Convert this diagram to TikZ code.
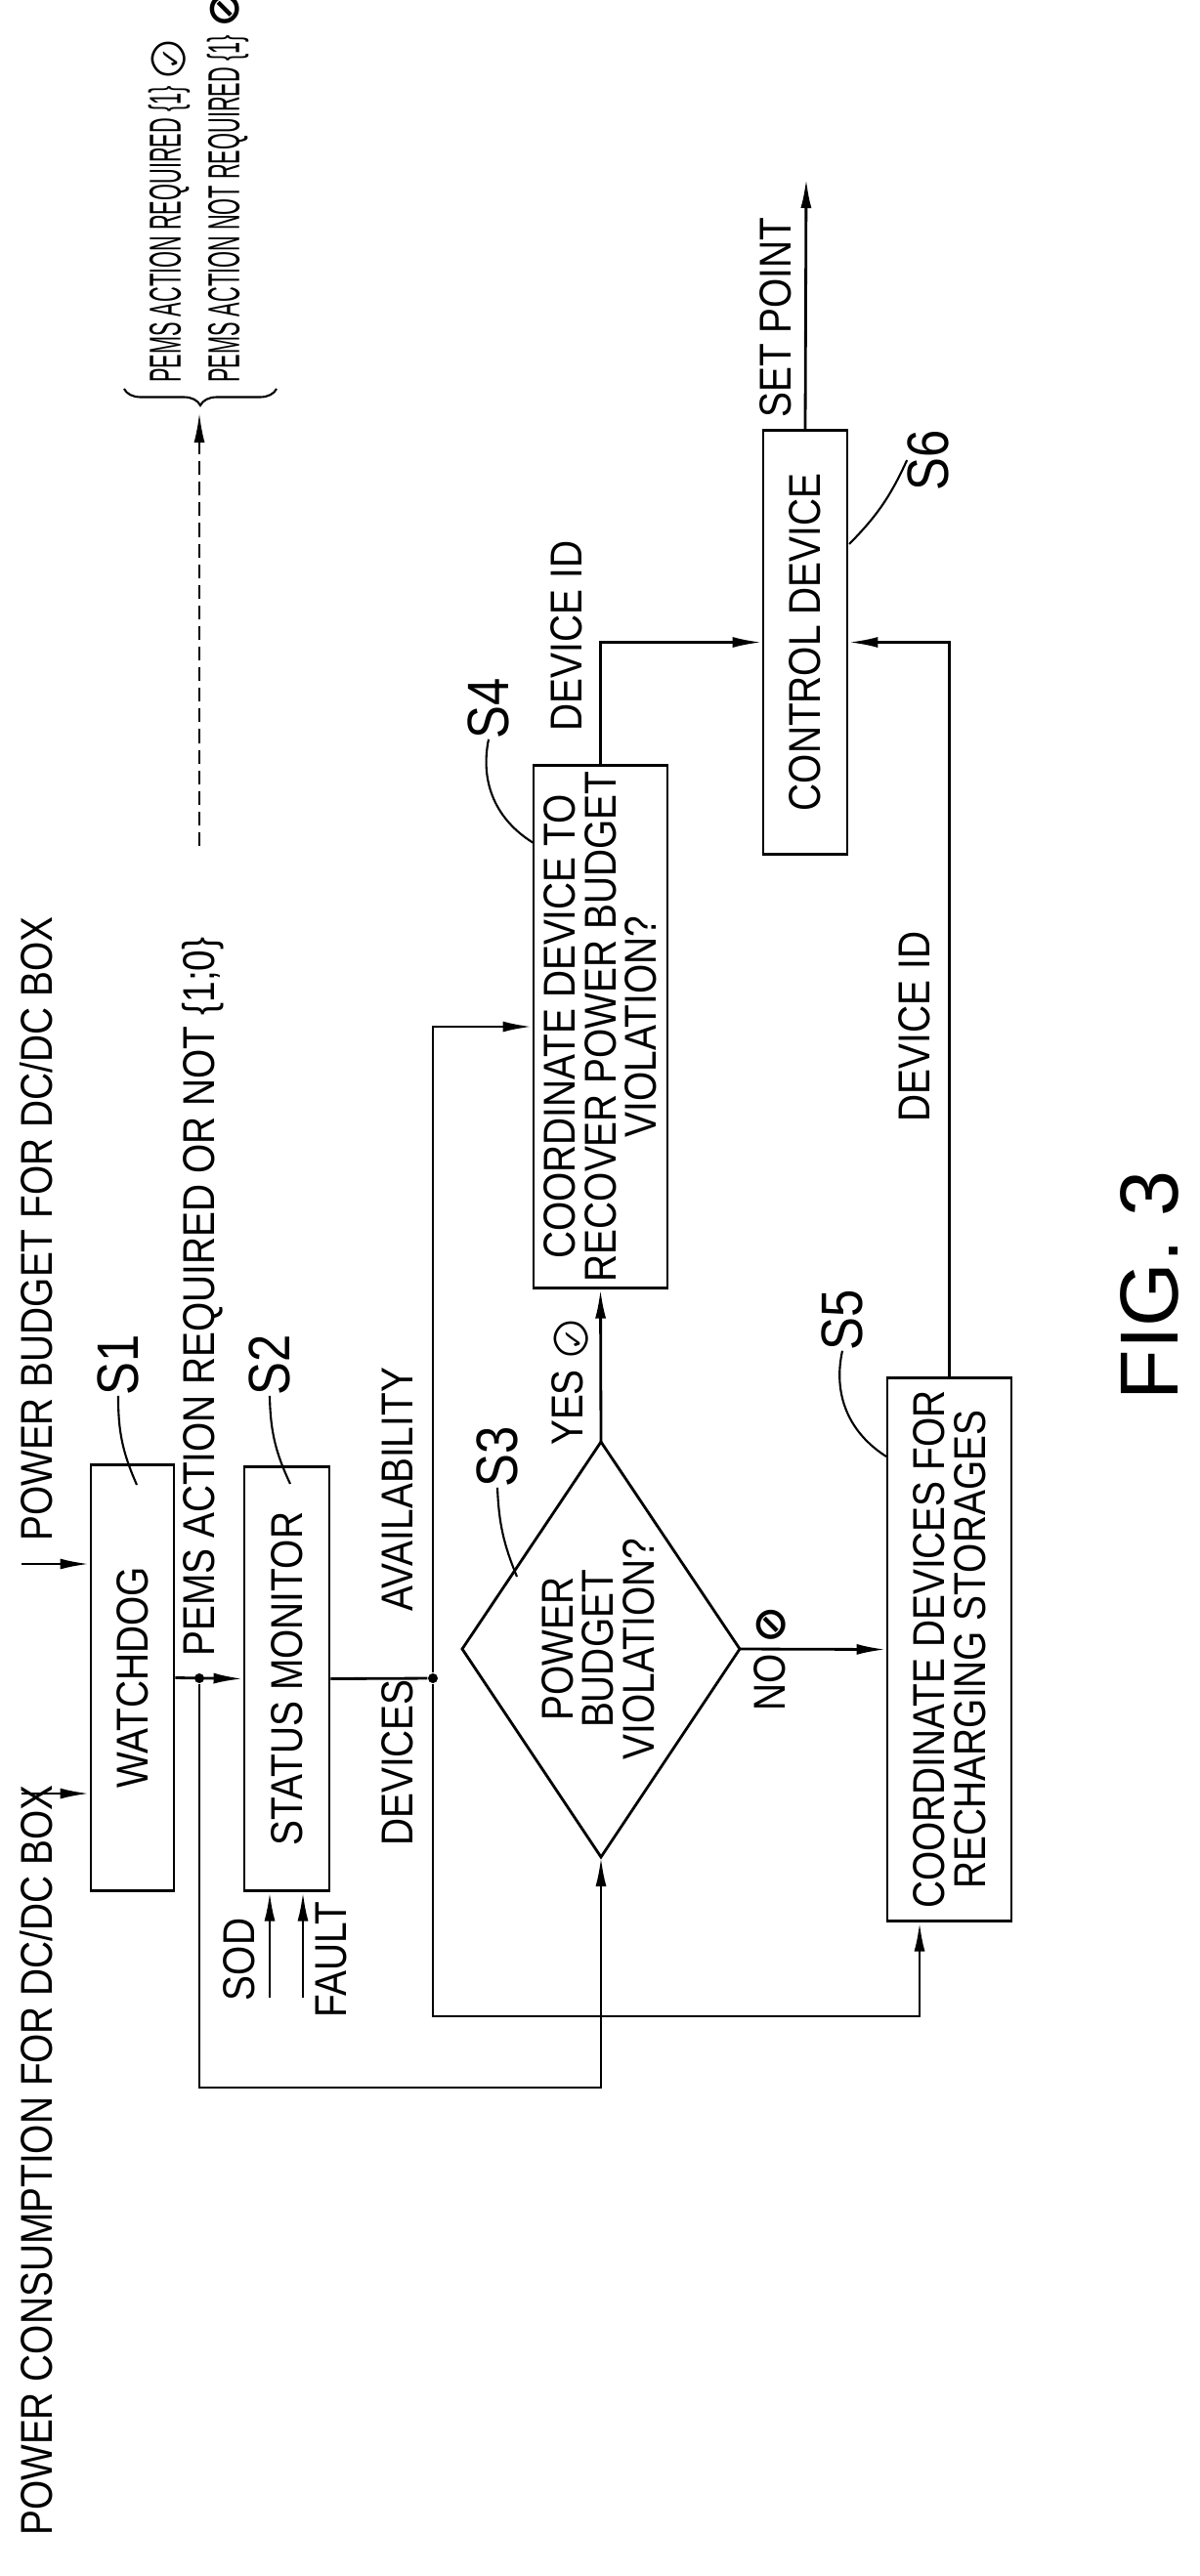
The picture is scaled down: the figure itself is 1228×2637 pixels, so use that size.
\documentclass[tikz,border=0pt]{standalone}
\usepackage{fontspec}
\setmainfont{Liberation Sans}[FakeStretch=0.85]
\newfontfamily\figfont{Liberation Sans}
\newfontfamily\symfont{DejaVu Sans}
\usetikzlibrary{arrows.meta,decorations.pathreplacing}
\newcommand\yesmark{{\symfont\makebox[0pt][l]{\makebox[0.9em]{\scalebox{0.6}{✓}}}\makebox[0.9em]{○}}}
\newcommand\nomark{{\symfont\bfseries ⊘}}
\tikzset{
  lbl/.style={rotate=90,inner sep=1pt,font=\fontsize{13}{11.8}\selectfont,align=center},
  box/.style={lbl,draw,thick,inner sep=0pt},
  stepno/.style={rotate=90,inner sep=0pt,font=\fontsize{17}{17}\selectfont},
  flow/.style={thick,-{Latex[length=3mm,width=1.1mm]}},
  dot/.style={circle,fill,inner sep=0pt,minimum size=1mm}
}
\begin{document}
\begin{tikzpicture}[x=0.01cm,y=-0.01cm]
	\useasboundingbox (0,0) rectangle (1228,2637);
	% blocks
	\node [box,minimum width=4.35cm,minimum height=0.85cm] (wd) at (135.5,1717.5) {WATCHDOG};
	\node [box,minimum width=4.33cm,minimum height=0.87cm] (sm) at (293.5,1718.5) {STATUS MONITOR};
	\node [box,minimum width=5.34cm,minimum height=1.37cm] (s4) at (614.5,1051) {COORDINATE DEVICE TO\\RECOVER POWER BUDGET\\VIOLATION?};
	\node [box,minimum width=5.55cm,minimum height=1.27cm] (s5) at (971.5,1688.5) {COORDINATE DEVICES FOR\\RECHARGING STORAGES};
	\node [box,minimum width=4.33cm,minimum height=0.86cm] (s6) at (824,657.5) {CONTROL DEVICE};
	% decision
	\coordinate (dl) at (473,1688);
	\coordinate (dt) at (615,1476);
	\coordinate (dr) at (757,1688);
	\coordinate (db) at (615,1901);
	\draw [thick] (dl) -- (dt) -- (dr) -- (db) -- cycle;
	\node [lbl] (dia) at (612,1688) {POWER\\BUDGET\\VIOLATION?};
	% inputs
	\node [lbl,anchor=west] (pc) at (37,2600) {POWER CONSUMPTION FOR DC/DC BOX};
	\node [lbl,anchor=west] (pb) at (37,1582) {POWER BUDGET FOR DC/DC BOX};
	\coordinate (in1) at (22,1836);
	\coordinate (in2) at (22,1601);
	\draw [flow] (in1) -- (in1 -| wd.north);
	\draw [flow] (in2) -- (in2 -| wd.north);
	\coordinate (sod) at (276,2045);
	\coordinate (flt) at (310,2045);
	\draw [flow] (sod) -- (sod |- sm.west);
	\draw [flow] (flt) -- (flt |- sm.west);
	\node [lbl] (sodl) at (245,2006) {SOD};
	\node [lbl] (fltl) at (339,2006) {FAULT};
	% watchdog output
	\node [dot] (j1) at (204,1718) {};
	\draw [flow] (wd.south) -- (sm.north);
	\coordinate (l1) at (204,2137);
	\draw [flow] (j1) -- (l1) -| (db);
	\node [lbl,anchor=west] (pems) at (208,1700) {PEMS ACTION REQUIRED OR NOT \{1;0\}};
	\coordinate (d1) at (204,866);
	\coordinate (d2) at (204,423);
	\draw [semithick,dash pattern=on 4pt off 2pt,-{Latex[length=3mm,width=1.1mm]}] (d1) -- (d2);
	\coordinate (br1) at (283,398);
	\coordinate (br2) at (127,398);
	\draw [semithick,decorate,decoration={brace,amplitude=0.17cm}] (br1) -- (br2);
	\node [lbl,anchor=west] (req) at (173,396) {\scalebox{0.56}[1]{PEMS ACTION REQUIRED \{1\}}\,\yesmark};
	\node [lbl,anchor=west] (nreq) at (233,396) {\scalebox{0.56}[1]{PEMS ACTION NOT REQUIRED \{1\}}\,\nomark};
	% status monitor output
	\node [dot] (j2) at (443,1718) {};
	\draw [thick] (sm.south) -- (j2);
	\node [lbl,anchor=west] (avail) at (407,1894) {DEVICES\hspace{0.7cm}AVAILABILITY};
	\draw [flow] (j2) |- (s4.north);
	\coordinate (l2) at (941,2064);
	\draw [flow] (j2) |- (l2) -- (l2 |- s5.west);
	% decision outputs
	\draw [flow] (dt) -- (s4.west);
	\node [lbl] (yes) at (583,1415) {YES \yesmark};
	\draw [flow] (dr) -- (s5.north);
	\node [lbl] (no) at (788,1698) {NO \nomark};
	% to control device
	\draw [flow] (s4.east) |- (s6.north);
	\draw [flow] (s5.east) |- (s6.south);
	\node [lbl] (id1) at (580,651) {DEVICE ID};
	\node [lbl] (id2) at (936,1051) {DEVICE ID};
	\coordinate (sp) at (825,183);
	\draw [flow] (s6.east) -- (sp);
	\node [lbl] (spl) at (794,325) {SET POINT};
	% step labels
	\node [stepno] (s1l) at (121,1397) {S1};
	\node [stepno] (s2l) at (276,1397) {S2};
	\node [stepno] (s3l) at (509,1491) {S3};
	\node [stepno] (s4l) at (500,725) {S4};
	\node [stepno] (s5l) at (862,1351) {S5};
	\node [stepno] (s6l) at (950,471) {S6};
	\draw [semithick] (s1l.west) to[bend right=12] (140,1520);
	\draw [semithick] (s2l.west) to[bend right=12] (297,1519);
	\draw [semithick] (s3l.west) to[bend right=10] (529,1614);
	\draw [semithick] (s4l.west) to[bend right=35] (546,863);
	\draw [semithick] (s5l.west) to[bend right=35] (907,1491);
	\draw [semithick] (s6l.north) to[bend left=10] (869,557);
	\node [rotate=90,font=\figfont\fontsize{24}{24}\selectfont] (fig) at (1176,1316) {FIG. 3};
\end{tikzpicture}
\end{document}
